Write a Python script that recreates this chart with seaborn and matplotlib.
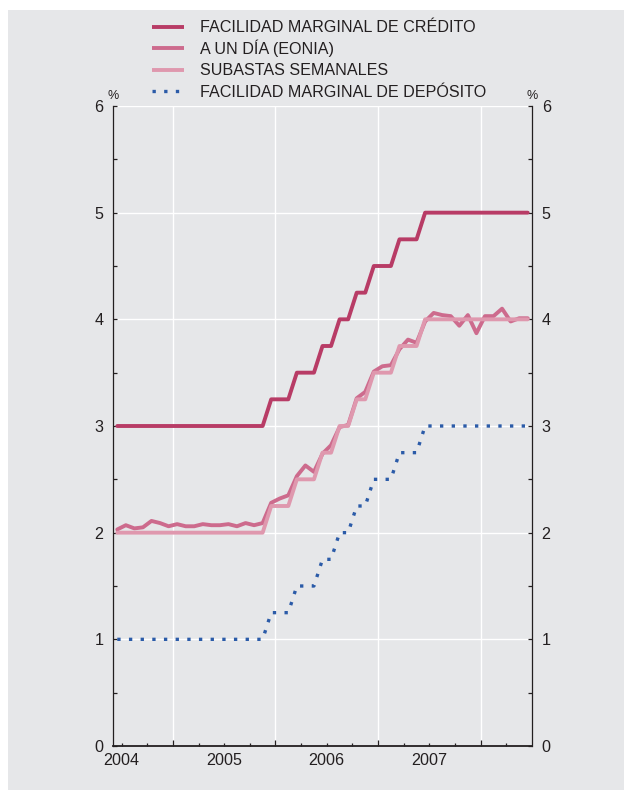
import matplotlib
matplotlib.use("Agg")
import matplotlib.pyplot as plt
from matplotlib.patches import Rectangle
from matplotlib.ticker import FixedLocator, FuncFormatter
from matplotlib.lines import Line2D
import seaborn as sns
import pandas as pd

# ---- data (monthly, Jun 2004 - Jun 2008) ----
start_year, start_month, n_months = 2004, 6, 49

credito = [3.0, 3.0, 3.0, 3.0, 3.0, 3.0, 3.0,
           3.0, 3.0, 3.0, 3.0, 3.0, 3.0, 3.0, 3.0, 3.0, 3.0, 3.0, 3.25,
           3.25, 3.25, 3.5, 3.5, 3.5, 3.75, 3.75, 4.0, 4.0, 4.25, 4.25, 4.5,
           4.5, 4.5, 4.75, 4.75, 4.75, 5.0, 5.0, 5.0, 5.0, 5.0, 5.0, 5.0,
           5.0, 5.0, 5.0, 5.0, 5.0, 5.0]
eonia = [2.03, 2.07, 2.04, 2.05, 2.11, 2.09, 2.06,
         2.08, 2.06, 2.06, 2.08, 2.07, 2.07, 2.08, 2.06, 2.09, 2.07, 2.09, 2.28,
         2.32, 2.35, 2.53, 2.63, 2.57, 2.74, 2.82, 2.99, 3.01, 3.26, 3.32, 3.51,
         3.56, 3.57, 3.72, 3.81, 3.78, 3.98, 4.06, 4.04, 4.03, 3.94, 4.04, 3.87,
         4.03, 4.03, 4.10, 3.98, 4.01, 4.01]
subastas = [2.0, 2.0, 2.0, 2.0, 2.0, 2.0, 2.0,
            2.0, 2.0, 2.0, 2.0, 2.0, 2.0, 2.0, 2.0, 2.0, 2.0, 2.0, 2.25,
            2.25, 2.25, 2.5, 2.5, 2.5, 2.75, 2.75, 3.0, 3.0, 3.25, 3.25, 3.5,
            3.5, 3.5, 3.75, 3.75, 3.75, 4.0, 4.0, 4.0, 4.0, 4.0, 4.0, 4.0,
            4.0, 4.0, 4.0, 4.0, 4.0, 4.0]
deposito = [1.0, 1.0, 1.0, 1.0, 1.0, 1.0, 1.0,
            1.0, 1.0, 1.0, 1.0, 1.0, 1.0, 1.0, 1.0, 1.0, 1.0, 1.0, 1.25,
            1.25, 1.25, 1.5, 1.5, 1.5, 1.75, 1.75, 2.0, 2.0, 2.25, 2.25, 2.5,
            2.5, 2.5, 2.75, 2.75, 2.75, 3.0, 3.0, 3.0, 3.0, 3.0, 3.0, 3.0,
            3.0, 3.0, 3.0, 3.0, 3.0, 3.0]

labels = ["FACILIDAD MARGINAL DE CRÉDITO", "A UN DÍA (EONIA)",
          "SUBASTAS SEMANALES", "FACILIDAD MARGINAL DE DEPÓSITO"]
year_labels = ["2004", "2005", "2006", "2007"]
y_ticks = [0, 1, 2, 3, 4, 5, 6]

# x position: decimal year at mid-month
xpos = [start_year + (start_month - 1 + i + 0.5) / 12 for i in range(n_months)]
df = pd.DataFrame({"x": xpos, "credito": credito, "eonia": eonia,
                   "subastas": subastas, "deposito": deposito})

BG = "#e6e7e9"
TXT = "#231f20"
C_CRED = "#b83c66"
C_EON = "#cd6b8d"
C_SUB = "#df98ae"
C_DEP = "#2b5ba8"

sns.set_style("white")
plt.rcParams["font.family"] = ["Liberation Sans", "DejaVu Sans"]

W, H = 632, 799
fig = plt.figure(figsize=(W / 100, H / 100), dpi=100)
fig.patch.set_facecolor("white")
fig.patches.append(Rectangle((8 / W, 1 - 790 / H), (624 - 8) / W, (790 - 10) / H,
                             transform=fig.transFigure, facecolor=BG,
                             edgecolor="none", zorder=-10))

ax = fig.add_axes([113 / W, 1 - 746 / H, (532 - 113) / W, (746 - 106) / H])
ax.set_facecolor(BG)
ax.set_zorder(5)

lw = 2.8
dlw = 2.4
dpat = (0, (1, 2.5))
sns.lineplot(data=df, x="x", y="credito", ax=ax, color=C_CRED, lw=lw, legend=False, zorder=3)
sns.lineplot(data=df, x="x", y="eonia", ax=ax, color=C_EON, lw=lw, legend=False, zorder=3)
sns.lineplot(data=df, x="x", y="subastas", ax=ax, color=C_SUB, lw=lw, legend=False, zorder=4)
sns.lineplot(data=df, x="x", y="deposito", ax=ax, color=C_DEP, lw=dlw, legend=False,
             linestyle=dpat, dash_capstyle="butt", zorder=3)

ax.set_xlim(start_year + (start_month - 1) / 12, 2008.5)
ax.set_ylim(0, 6)
ax.set_xlabel("")
ax.set_ylabel("")

year_pos = [2004.5, 2005.5, 2006.5, 2007.5]
ax.xaxis.set_major_locator(FixedLocator([2005, 2006, 2007, 2008]))
quarters = [2004.5, 2004.75, 2005.25, 2005.5, 2005.75, 2006.25, 2006.5, 2006.75,
            2007.25, 2007.5, 2007.75, 2008.25]
ax.xaxis.set_minor_locator(FixedLocator(quarters))
lab_map = dict(zip(year_pos, year_labels))
ax.xaxis.set_minor_formatter(FuncFormatter(lambda v, p: lab_map.get(round(v, 2), "")))
ax.xaxis.set_major_formatter(FuncFormatter(lambda v, p: ""))

ax.yaxis.set_major_locator(FixedLocator(y_ticks))
ax.yaxis.set_minor_locator(FixedLocator([0.5, 1.5, 2.5, 3.5, 4.5, 5.5]))
ax.yaxis.set_major_formatter(FuncFormatter(lambda v, p: f"{int(v)}"))

ax.tick_params(axis="x", which="major", direction="in", length=4.3, width=0.9,
               color=TXT, bottom=True, top=False)
ax.tick_params(axis="x", which="minor", direction="in", length=2.4, width=0.9,
               color=TXT, pad=5, labelsize=11.6, labelcolor=TXT, bottom=True, top=False)
ax.tick_params(axis="y", which="both", direction="in", length=2.6, width=0.9,
               color=TXT, left=True, right=True, labelleft=True, labelright=True,
               pad=7, labelsize=11.6, labelcolor=TXT)

ax.grid(True, which="major", color="white", linewidth=1.0)
ax.set_axisbelow(True)

for s in ["left", "right"]:
    ax.spines[s].set_color(TXT)
    ax.spines[s].set_linewidth(0.9)
ax.spines["bottom"].set_color(TXT)
ax.spines["bottom"].set_linewidth(1.3)
ax.spines["top"].set_visible(False)

fig.text(113 / W, 1 - 96 / H, "%", ha="center", va="center", fontsize=9, color=TXT)
fig.text(532 / W, 1 - 96 / H, "%", ha="center", va="center", fontsize=9, color=TXT)

# legend, drawn row by row at fixed pixel positions
styles = [dict(color=C_CRED, lw=lw, solid_capstyle="butt"),
          dict(color=C_EON, lw=lw, solid_capstyle="butt"),
          dict(color=C_SUB, lw=lw, solid_capstyle="butt"),
          dict(color=C_DEP, lw=dlw, linestyle=dpat, dash_capstyle="butt")]
for i, (lab, st) in enumerate(zip(labels, styles)):
    yc = 26.5 + 21.5 * i
    fig.add_artist(Line2D([152 / W, 184 / W], [1 - yc / H, 1 - yc / H],
                          transform=fig.transFigure, **st))
    fig.text(200 / W, 1 - (yc + 5.8) / H, lab, ha="left", va="baseline",
             fontsize=11.6, color=TXT)

fig.savefig("out.png", dpi=100, facecolor="white")
